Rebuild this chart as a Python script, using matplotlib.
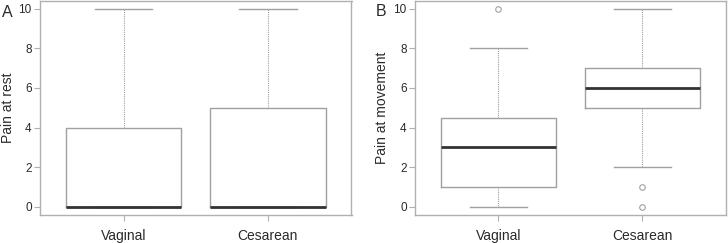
import matplotlib
matplotlib.use("Agg")
import matplotlib.pyplot as plt

plt.rcParams['font.family'] = ['Liberation Sans', 'DejaVu Sans']

groups = ["Vaginal", "Cesarean"]
# panel A: Pain at rest (whislo, q1, med, q3, whishi)
rest_whislo = [0, 0]
rest_q1 = [0, 0]
rest_med = [0, 0]
rest_q3 = [4, 5]
rest_whishi = [10, 10]
rest_fliers = [[], []]
# panel B: Pain at movement
mov_whislo = [0, 2]
mov_q1 = [1, 5]
mov_med = [3, 6]
mov_q3 = [4.5, 7]
mov_whishi = [8, 10]
mov_fliers = [[10], [1, 0]]
yticks = [0, 2, 4, 6, 8, 10]

gray = "#a0a0a0"
frame = "#b0b0b0"
txt = "#2a2a2a"

def stats(lo, q1, med, q3, hi, fl):
    return [dict(whislo=a, q1=b, med=c, q3=d, whishi=e, fliers=f, label=g)
            for a, b, c, d, e, f, g in zip(lo, q1, med, q3, hi, fl, groups)]

fig = plt.figure(figsize=(7.28, 2.43), dpi=100)
axA = fig.add_axes([40/728, 1-214.5/243, (351.5-40)/728, 213.5/243])
axB = fig.add_axes([415/728, 1-214.5/243, (725.7-415)/728, 213.5/243])

panels = [
    (axA, stats(rest_whislo, rest_q1, rest_med, rest_q3, rest_whishi, rest_fliers), "Pain at rest", "A", 9),
    (axB, stats(mov_whislo, mov_q1, mov_med, mov_q3, mov_whishi, mov_fliers), "Pain at movement", "B", 383),
]

for ax, st, ylab, letter, labx in panels:
    ax.bxp(st, positions=[1, 2], widths=0.8, showfliers=True,
           boxprops=dict(color=gray, linewidth=1.0),
           whiskerprops=dict(color=gray, linewidth=0.8, linestyle=(0, (1, 1))),
           capprops=dict(color=gray, linewidth=1.0),
           medianprops=dict(color="#333333", linewidth=2.0),
           flierprops=dict(marker="o", markerfacecolor="none", markeredgecolor=gray,
                           markersize=4, markeredgewidth=0.8),
           capwidths=0.4)
    ax.set_xlim(0.42, 2.58)
    ax.set_ylim(-0.4, 10.4)
    ax.set_yticks(yticks)
    ax.set_yticklabels([str(t) for t in yticks])
    ax.set_xticks([1, 2])
    ax.set_xticklabels(groups)
    for s in ax.spines.values():
        s.set_color(frame)
        s.set_linewidth(1.0)
    ax.tick_params(axis='both', colors=frame, labelcolor=txt, labelsize=8.5,
                   length=4.5, width=0.8)
    ax.tick_params(axis='y', pad=1.5)
    ax.tick_params(axis='x', labelsize=10, pad=6)
    ax.set_ylabel(ylab, fontsize=10, color=txt)
    pos = ax.get_position()
    ax.yaxis.set_label_coords((labx + 6 - pos.x0*728) / (pos.width*728), 0.5)

fig.text(2/728, 1-12.5/243, "A", fontsize=11.5, color=txt, va="center")
fig.text(376/728, 1-12/243, "B", fontsize=11.5, color=txt, va="center")

fig.savefig("out.png", dpi=100)
